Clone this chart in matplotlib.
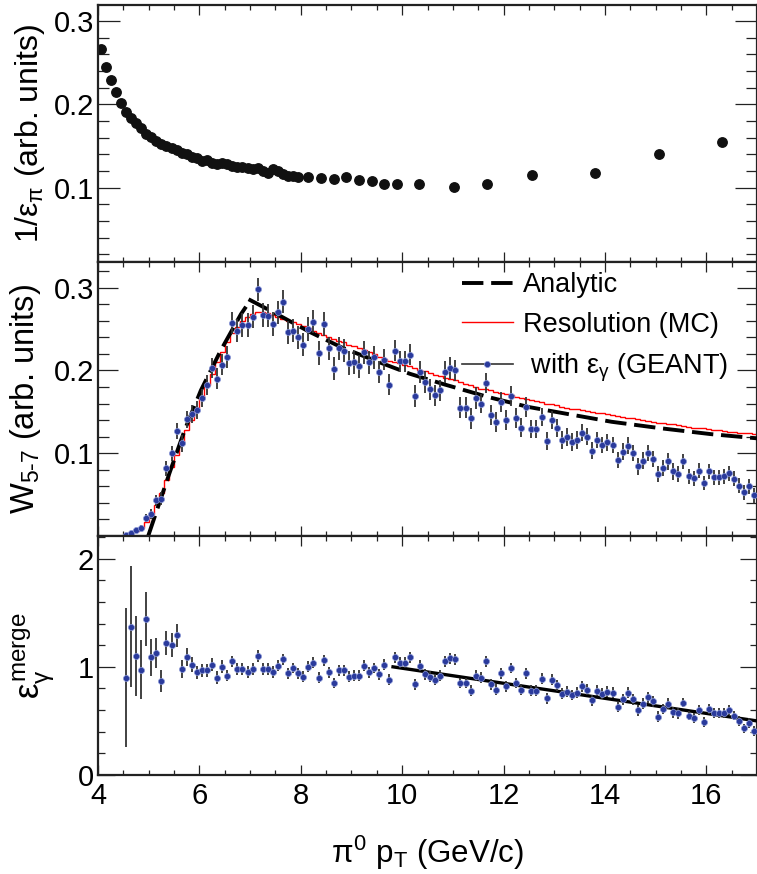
import numpy as np
import matplotlib
matplotlib.use('Agg')
import matplotlib.pyplot as plt
from matplotlib.lines import Line2D
from matplotlib.ticker import MultipleLocator

plt.rcParams['font.family'] = ['Liberation Sans', 'DejaVu Sans']
plt.rcParams['mathtext.fontset'] = 'custom'
plt.rcParams['mathtext.rm'] = 'Liberation Sans'
plt.rcParams['mathtext.it'] = 'Liberation Sans'
plt.rcParams['mathtext.sf'] = 'Liberation Sans'
plt.rcParams['mathtext.fallback'] = 'stixsans'

# ---- top panel: 1/eps_pi ----
pt_eff = [4.05, 4.15, 4.25, 4.35, 4.45, 4.55, 4.65, 4.75, 4.85, 4.95,
          5.05, 5.15, 5.25, 5.35, 5.45, 5.55, 5.65, 5.75, 5.85, 5.95,
          6.05, 6.15, 6.25, 6.35, 6.45, 6.55, 6.65, 6.75, 6.85, 6.95,
          7.05, 7.15, 7.25, 7.35, 7.45, 7.55, 7.65, 7.75, 7.85, 7.95,
          8.15, 8.40, 8.65, 8.90, 9.15, 9.40, 9.65, 9.90, 10.33, 11.02,
          11.67, 12.57, 13.81, 15.07, 16.31]
inv_eff = [0.266, 0.245, 0.229, 0.215, 0.202, 0.191, 0.183, 0.177, 0.171, 0.165,
           0.161, 0.156, 0.153, 0.150, 0.148, 0.145, 0.142, 0.140, 0.137, 0.136,
           0.132, 0.133, 0.130, 0.129, 0.130, 0.128, 0.126, 0.125, 0.125, 0.124,
           0.122, 0.124, 0.120, 0.118, 0.123, 0.120, 0.116, 0.114, 0.114, 0.113,
           0.113, 0.112, 0.111, 0.113, 0.109, 0.108, 0.104, 0.104, 0.104, 0.101,
           0.104, 0.115, 0.118, 0.140, 0.155]

# ---- bins shared by middle and bottom panels (0.1 GeV/c wide) ----
bin_lo, bin_w, n_bins = 4.5, 0.1, 125
edges = np.round(bin_lo + bin_w * np.arange(n_bins + 1), 3)
centers = 0.5 * (edges[:-1] + edges[1:])

# ---- middle panel: W_5-7 ----
w_geant = [0.001, 0.004, 0.007, 0.010, 0.022, 0.027, 0.043, 0.045, 0.082, 0.100,
           0.127, 0.112, 0.141, 0.147, 0.152, 0.167, 0.182, 0.203, 0.190, 0.207,
           0.216, 0.257, 0.248, 0.255, 0.255, 0.265, 0.298, 0.267, 0.266, 0.256,
           0.270, 0.283, 0.246, 0.248, 0.240, 0.231, 0.250, 0.259, 0.221, 0.256,
           0.227, 0.202, 0.227, 0.224, 0.209, 0.210, 0.205, 0.222, 0.210, 0.216,
           0.198, 0.213, 0.183, 0.224, 0.211, 0.211, 0.219, 0.169, 0.198, 0.186,
           0.177, 0.170, 0.176, 0.198, 0.203, 0.200, 0.155, 0.155, 0.142, 0.167,
           0.160, 0.185, 0.146, 0.138, 0.162, 0.140, 0.169, 0.143, 0.131, 0.156,
           0.129, 0.129, 0.144, 0.115, 0.140, 0.130, 0.116, 0.120, 0.114, 0.116,
           0.125, 0.120, 0.103, 0.116, 0.110, 0.113, 0.110, 0.092, 0.102, 0.109,
           0.100, 0.084, 0.091, 0.100, 0.093, 0.075, 0.082, 0.090, 0.078, 0.075,
           0.090, 0.072, 0.070, 0.079, 0.064, 0.078, 0.071, 0.071, 0.072, 0.076,
           0.069, 0.061, 0.053, 0.060, 0.049]
w_err = [0.002, 0.002, 0.003, 0.003, 0.005, 0.006, 0.007, 0.008, 0.009, 0.009,
         0.010, 0.010, 0.010, 0.011, 0.011, 0.011, 0.012, 0.012, 0.013, 0.013,
         0.013, 0.013, 0.014, 0.014, 0.014, 0.014, 0.014, 0.014, 0.014, 0.014,
         0.014, 0.014, 0.014, 0.014, 0.014, 0.014, 0.014, 0.014, 0.014, 0.014,
         0.014, 0.014, 0.014, 0.014, 0.014, 0.014, 0.014, 0.014, 0.014, 0.014,
         0.013, 0.013, 0.013, 0.013, 0.013, 0.013, 0.013, 0.013, 0.013, 0.013,
         0.013, 0.013, 0.013, 0.013, 0.013, 0.013, 0.013, 0.013, 0.013, 0.013,
         0.012, 0.012, 0.012, 0.012, 0.012, 0.012, 0.012, 0.012, 0.012, 0.012,
         0.011, 0.011, 0.011, 0.011, 0.011, 0.011, 0.011, 0.011, 0.011, 0.011,
         0.010, 0.010, 0.010, 0.010, 0.010, 0.010, 0.010, 0.010, 0.010, 0.010,
         0.010, 0.010, 0.010, 0.010, 0.010, 0.010, 0.010, 0.010, 0.010, 0.010,
         0.009, 0.009, 0.009, 0.009, 0.009, 0.009, 0.009, 0.009, 0.009, 0.009,
         0.009, 0.009, 0.009, 0.009, 0.009]
w_resolution = [0.001, 0.003, 0.006, 0.010, 0.017, 0.027, 0.037, 0.052, 0.068, 0.083,
                0.098, 0.112, 0.128, 0.140, 0.155, 0.168, 0.183, 0.196, 0.210, 0.222,
                0.234, 0.245, 0.253, 0.260, 0.265, 0.268, 0.270, 0.270, 0.269, 0.267,
                0.265, 0.262, 0.260, 0.258, 0.256, 0.254, 0.251, 0.248, 0.245, 0.243,
                0.241, 0.238, 0.236, 0.234, 0.231, 0.229, 0.227, 0.225, 0.222, 0.220,
                0.216, 0.214, 0.212, 0.210, 0.209, 0.207, 0.205, 0.203, 0.201, 0.199,
                0.197, 0.195, 0.193, 0.191, 0.190, 0.188, 0.186, 0.184, 0.182, 0.180,
                0.178, 0.177, 0.176, 0.174, 0.173, 0.171, 0.170, 0.168, 0.167, 0.165,
                0.164, 0.163, 0.162, 0.160, 0.159, 0.158, 0.156, 0.155, 0.154, 0.153,
                0.152, 0.151, 0.150, 0.149, 0.148, 0.147, 0.146, 0.145, 0.144, 0.143,
                0.142, 0.141, 0.140, 0.139, 0.138, 0.137, 0.136, 0.135, 0.135, 0.134,
                0.133, 0.132, 0.131, 0.131, 0.130, 0.129, 0.128, 0.128, 0.127, 0.126,
                0.126, 0.125, 0.124, 0.124, 0.123]
# analytic curve, two branches
ana_rise_x = [4.99, 5.41, 5.71, 6.03, 6.42, 6.82, 6.92]
ana_rise_y = [0.0, 0.076, 0.128, 0.176, 0.224, 0.268, 0.277]
ana_fall_x = [6.97, 7.53, 8.16, 8.80, 9.46, 10.15, 10.84, 11.69, 12.48, 13.30, 14.13, 15.12, 16.10, 17.0]
ana_fall_y = [0.286, 0.268, 0.247, 0.228, 0.212, 0.196, 0.183, 0.168, 0.156, 0.147, 0.138, 0.130, 0.123, 0.118]

# ---- bottom panel: eps_gamma^merge ----
eff_merge = [0.90, 1.37, 1.10, 0.975, 1.44, 1.09, 1.13, 0.87, 1.22, 1.20,
             1.29, 0.98, 1.09, 1.02, 0.95, 0.97, 0.97, 1.02, 0.90, 1.00,
             0.92, 1.05, 0.98, 0.98, 0.95, 0.98, 1.10, 0.98, 0.98, 0.95,
             1.01, 1.07, 0.94, 0.99, 0.94, 0.91, 1.00, 1.04, 0.90, 1.06,
             0.95, 0.85, 0.97, 0.97, 0.91, 0.92, 0.92, 1.01, 0.95, 0.99,
             0.93, 1.02, 0.88, 1.09, 1.04, 1.04, 1.09, 0.84, 1.01, 0.93,
             0.91, 0.88, 0.92, 1.05, 1.08, 1.07, 0.85, 0.85, 0.78, 0.92,
             0.90, 1.05, 0.84, 0.79, 0.94, 0.82, 0.99, 0.85, 0.79, 0.94,
             0.78, 0.78, 0.89, 0.71, 0.88, 0.83, 0.75, 0.77, 0.74, 0.76,
             0.82, 0.79, 0.69, 0.78, 0.75, 0.77, 0.76, 0.63, 0.70, 0.76,
             0.70, 0.60, 0.66, 0.72, 0.68, 0.54, 0.61, 0.66, 0.58, 0.57,
             0.67, 0.55, 0.53, 0.60, 0.49, 0.61, 0.57, 0.57, 0.57, 0.60,
             0.55, 0.50, 0.43, 0.48, 0.41]
eff_err = [0.64, 0.56, 0.37, 0.27, 0.25, 0.17, 0.14, 0.10, 0.11, 0.11,
           0.11, 0.08, 0.08, 0.07, 0.06, 0.06, 0.06, 0.06, 0.06, 0.06,
           0.055, 0.055, 0.055, 0.055, 0.055, 0.055, 0.055, 0.055, 0.055, 0.055,
           0.05, 0.05, 0.05, 0.05, 0.05, 0.05, 0.05, 0.05, 0.05, 0.05,
           0.05, 0.05, 0.05, 0.05, 0.05, 0.05, 0.05, 0.05, 0.05, 0.05,
           0.05, 0.05, 0.05, 0.05, 0.05, 0.05, 0.05, 0.05, 0.05, 0.05,
           0.05, 0.05, 0.05, 0.05, 0.05, 0.05, 0.05, 0.05, 0.05, 0.05,
           0.05, 0.05, 0.05, 0.05, 0.05, 0.05, 0.05, 0.05, 0.05, 0.05,
           0.05, 0.05, 0.05, 0.05, 0.05, 0.05, 0.05, 0.05, 0.05, 0.05,
           0.05, 0.05, 0.05, 0.05, 0.05, 0.05, 0.05, 0.05, 0.05, 0.05,
           0.05, 0.05, 0.05, 0.05, 0.05, 0.05, 0.05, 0.05, 0.05, 0.05,
           0.045, 0.045, 0.045, 0.045, 0.045, 0.045, 0.045, 0.045, 0.045, 0.045,
           0.045, 0.045, 0.045, 0.045, 0.045]
fit_x = [9.82, 17.0]
fit_y = [1.0, 0.50]

BLUE = '#2a3a9c'
HALO = '#8a97d6'
ERRC = '#333333'
DASH = (0, (5.5, 2.0))

fig = plt.figure(figsize=(7.57, 8.74), dpi=100)
W, H = 757.0, 874.0
left, right = 98 / W, 1.0
ax1 = fig.add_axes([left, 1 - 262 / H, right - left, 257 / H])
ax2 = fig.add_axes([left, 1 - 536 / H, right - left, 274 / H])
ax3 = fig.add_axes([left, 1 - 775 / H, right - left, 239 / H])


def style(ax, ymaj, ymin, ylen, ylen_min):
    ax.set_xlim(4, 17)
    ax.xaxis.set_major_locator(MultipleLocator(2))
    ax.xaxis.set_minor_locator(MultipleLocator(0.5))
    ax.yaxis.set_major_locator(MultipleLocator(ymaj))
    ax.yaxis.set_minor_locator(MultipleLocator(ymin))
    ax.tick_params(axis='both', which='both', direction='in', top=True, right=True,
                   labelsize=21, width=0.9, color='#222222', pad=3)
    ax.tick_params(axis='x', which='major', length=7)
    ax.tick_params(axis='x', which='minor', length=3.6)
    ax.tick_params(axis='y', which='major', length=ylen)
    ax.tick_params(axis='y', which='minor', length=ylen_min)
    for s in ax.spines.values():
        s.set_linewidth(1.6)
        s.set_color('#222222')


# top
style(ax1, 0.1, 0.02, 15.5, 8)
ax1.plot(pt_eff, inv_eff, 'o', color='#111111', ms=6.8, ls='none')
ax1.set_ylim(0.011, 0.319)
ax1.set_yticks([0.1, 0.2, 0.3])
ax1.set_yticklabels(['0.1', '0.2', '0.3'])
ax1.tick_params(axis='x', labelbottom=False)
ax1.set_ylabel(r'1/$\epsilon_{\pi}$ (arb. units)', fontsize=23)
ax1.yaxis.set_label_coords(-0.077, 0.5)

# middle
style(ax2, 0.1, 0.02, 14.5, 8)
ax2.stairs(w_resolution, edges, color='red', lw=1.0, zorder=2)
ax2.plot(ana_rise_x, ana_rise_y, color='black', lw=2.8, ls=DASH, zorder=3)
ax2.plot(ana_fall_x, ana_fall_y, color='black', lw=2.8, ls=DASH, zorder=3)
ax2.errorbar(centers, w_geant, yerr=w_err, fmt='o', ms=4.4, color=BLUE, mec=HALO, mew=0.5,
             ecolor=ERRC, elinewidth=1.3, capsize=0, zorder=4)
ax2.set_ylim(0, 0.331)
ax2.set_yticks([0.1, 0.2, 0.3])
ax2.set_yticklabels(['0.1', '0.2', '0.3'])
ax2.tick_params(axis='x', labelbottom=False)
ax2.set_ylabel(r'W$_{5\text{-}7}$ (arb. units)', fontsize=23.5)
ax2.yaxis.set_label_coords(-0.083, 0.5)

handles = [Line2D([], [], color='black', lw=2.8, ls=DASH),
           Line2D([], [], color='red', lw=1.0),
           Line2D([], [], color=ERRC, lw=1.2, marker='o', ms=4.4, mfc=BLUE, mec=HALO, mew=0.5)]
labels = ['Analytic', 'Resolution (MC)', r' with $\epsilon_{\gamma}$ (GEANT)']
ax2.legend(handles, labels, loc='upper left', bbox_to_anchor=(0.552, 0.962), frameon=False,
           fontsize=19.5, handlelength=1.9, handletextpad=0.37, labelspacing=0.5,
           borderaxespad=0, borderpad=0)

# bottom
style(ax3, 1, 0.2, 12, 5)
ax3.errorbar(centers, eff_merge, yerr=eff_err, fmt='o', ms=4.4, color=BLUE, mec=HALO, mew=0.5,
             ecolor=ERRC, elinewidth=1.3, capsize=0, zorder=4)
ax3.plot(fit_x, fit_y, color='black', lw=2.4, zorder=3)
ax3.set_ylim(0, 2.21)
ax3.set_yticks([0, 1, 2])
ax3.set_yticklabels(['0', '1', '2'])
ax3.set_xticks([4, 6, 8, 10, 12, 14, 16])
ax3.set_xticklabels(['4', '6', '8', '10', '12', '14', '16'])
ax3.tick_params(axis='x', pad=5)
ax3.set_ylabel(r'$\epsilon_{\gamma}^{\mathrm{merge}}$', fontsize=25)
ax3.yaxis.set_label_coords(-0.062, 0.5)
ax3.set_xlabel(r'$\pi^{0}$ p$_{T}$ (GeV/c)', fontsize=22.5)
ax3.xaxis.set_label_coords(0.5, -0.245)

fig.savefig('out.png', dpi=100)
